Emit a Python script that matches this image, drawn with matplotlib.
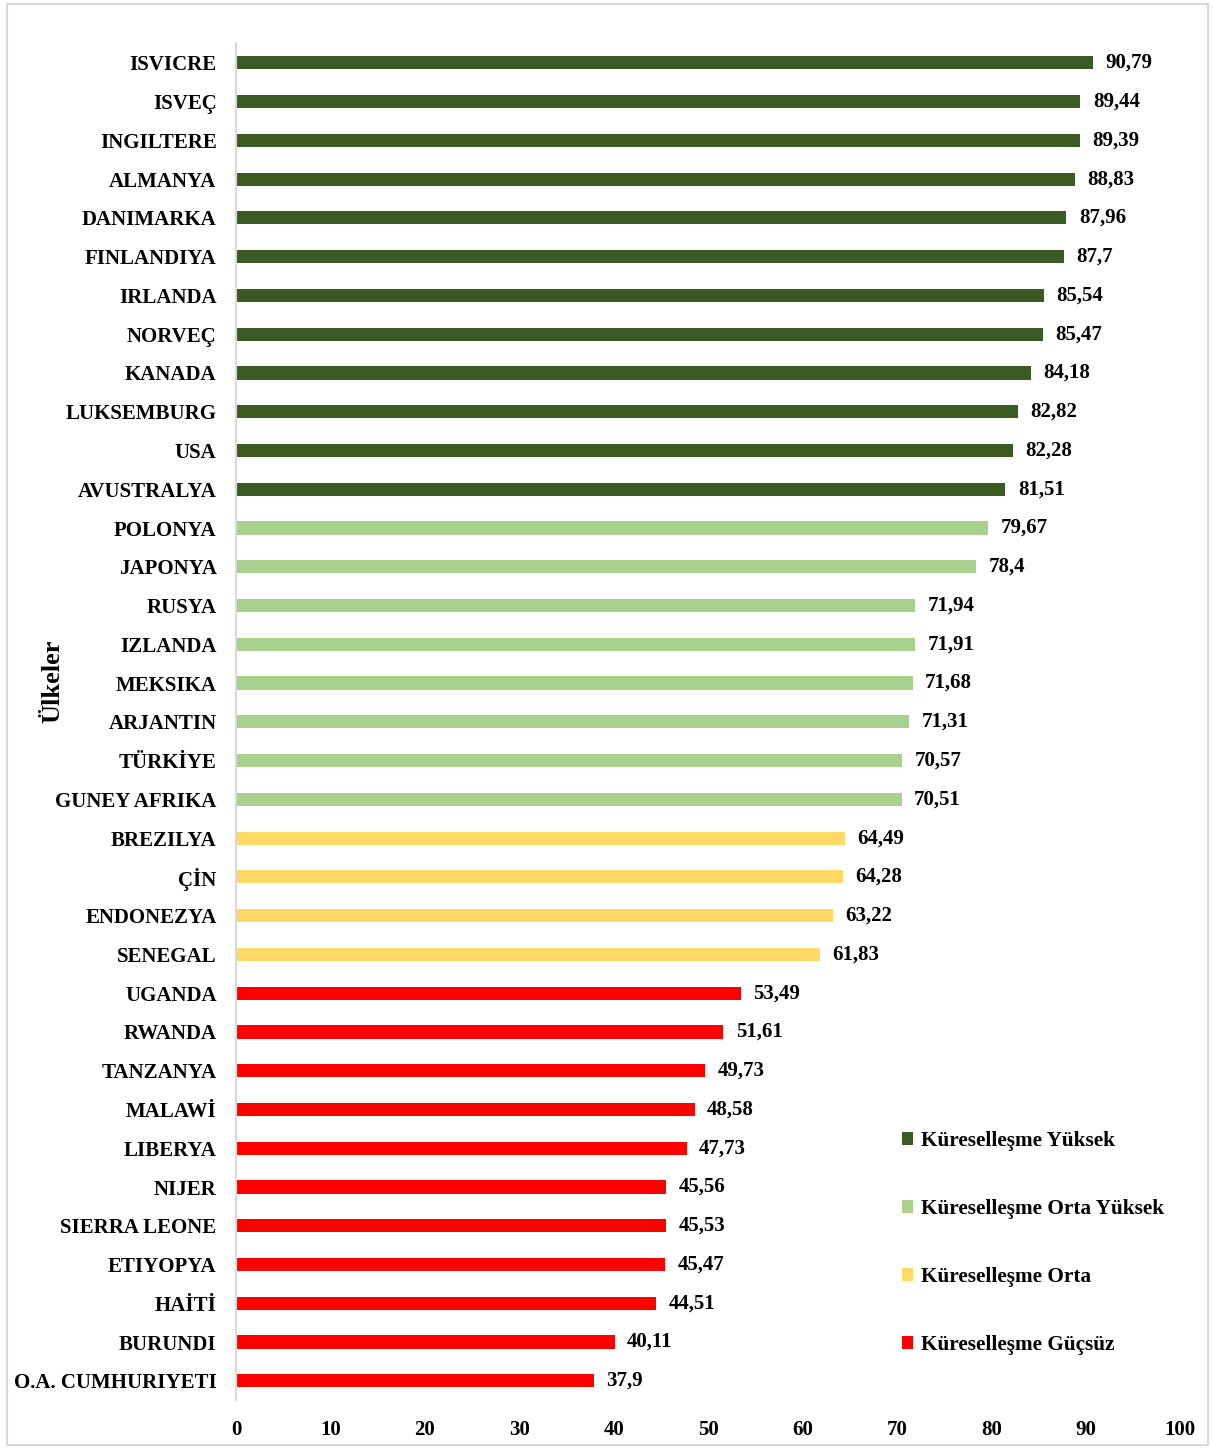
import matplotlib
matplotlib.use('Agg')
import matplotlib.pyplot as plt
from matplotlib.patches import Patch, Rectangle

plt.rcParams['font.family'] = ['Liberation Serif', 'DejaVu Serif']
plt.rcParams['font.weight'] = 'bold'

# countries, top to bottom
countries = ['ISVICRE', 'ISVEÇ', 'INGILTERE', 'ALMANYA', 'DANIMARKA', 'FINLANDIYA',
             'IRLANDA', 'NORVEÇ', 'KANADA', 'LUKSEMBURG', 'USA', 'AVUSTRALYA',
             'POLONYA', 'JAPONYA', 'RUSYA', 'IZLANDA', 'MEKSIKA', 'ARJANTIN',
             'TÜRKİYE', 'GUNEY AFRIKA', 'BREZILYA', 'ÇİN', 'ENDONEZYA', 'SENEGAL',
             'UGANDA', 'RWANDA', 'TANZANYA', 'MALAWİ', 'LIBERYA', 'NIJER',
             'SIERRA LEONE', 'ETIYOPYA', 'HAİTİ', 'BURUNDI', 'O.A. CUMHURIYETI']
values = [90.79, 89.44, 89.39, 88.83, 87.96, 87.7, 85.54, 85.47, 84.18, 82.82,
          82.28, 81.51, 79.67, 78.4, 71.94, 71.91, 71.68, 71.31, 70.57, 70.51,
          64.49, 64.28, 63.22, 61.83, 53.49, 51.61, 49.73, 48.58, 47.73, 45.56,
          45.53, 45.47, 44.51, 40.11, 37.9]
group_names = ['Küreselleşme Yüksek', 'Küreselleşme Orta Yüksek',
               'Küreselleşme Orta', 'Küreselleşme Güçsüz']
group_sizes = [12, 8, 4, 11]
group_colors = ['#3b5a24', '#a9d18e', '#ffd966', '#ff0000']

colors = []
for c, n in zip(group_colors, group_sizes):
    colors += [c] * n

fig = plt.figure(figsize=(12.13, 14.48), dpi=100)
ax = fig.add_axes([0.1946, 0.033, 0.7782, 0.937])

n = len(countries)
ypos = list(range(n - 1, -1, -1))
ax.barh(ypos, values, height=0.34, color=colors)

for y, v in zip(ypos, values):
    lab = ('%g' % v).replace('.', ',')
    ax.annotate(lab, (v, y), xytext=(9, 0), textcoords='offset points',
                va='center', ha='left', fontsize=15, fontweight='bold')

ax.set_yticks(ypos)
ax.set_yticklabels(countries, fontsize=15, fontweight='bold')
ax.set_ylim(-0.5, n - 0.5)
ax.set_xlim(0, 100)
ax.set_xticks(range(0, 101, 10))
ax.tick_params(axis='x', length=0, pad=14, labelsize=15)
ax.tick_params(axis='y', length=0, pad=14)
for s in ['top', 'right', 'bottom']:
    ax.spines[s].set_visible(False)
ax.spines['left'].set_color('#d9d9d9')
ax.spines['left'].set_linewidth(1.5)

ax.set_ylabel('Ülkeler', fontsize=19, fontweight='bold', labelpad=0)
ax.yaxis.set_label_coords(-0.182, 0.53)

handles = [Patch(facecolor=c, label=g) for c, g in zip(group_colors, group_names)]
ax.legend(handles=handles, loc='upper left', bbox_to_anchor=(0.7275, 0.232),
          bbox_transform=fig.transFigure, frameon=False, fontsize=15.3,
          handlelength=0.55, handleheight=0.55, handletextpad=0.35,
          labelspacing=2.25)

# outer frame
fig.patches.append(Rectangle((0.006, 0.002), 0.99, 0.995, transform=fig.transFigure,
                             fill=False, edgecolor='#d9d9d9', linewidth=1.5))

plt.savefig('out.png', dpi=100)
